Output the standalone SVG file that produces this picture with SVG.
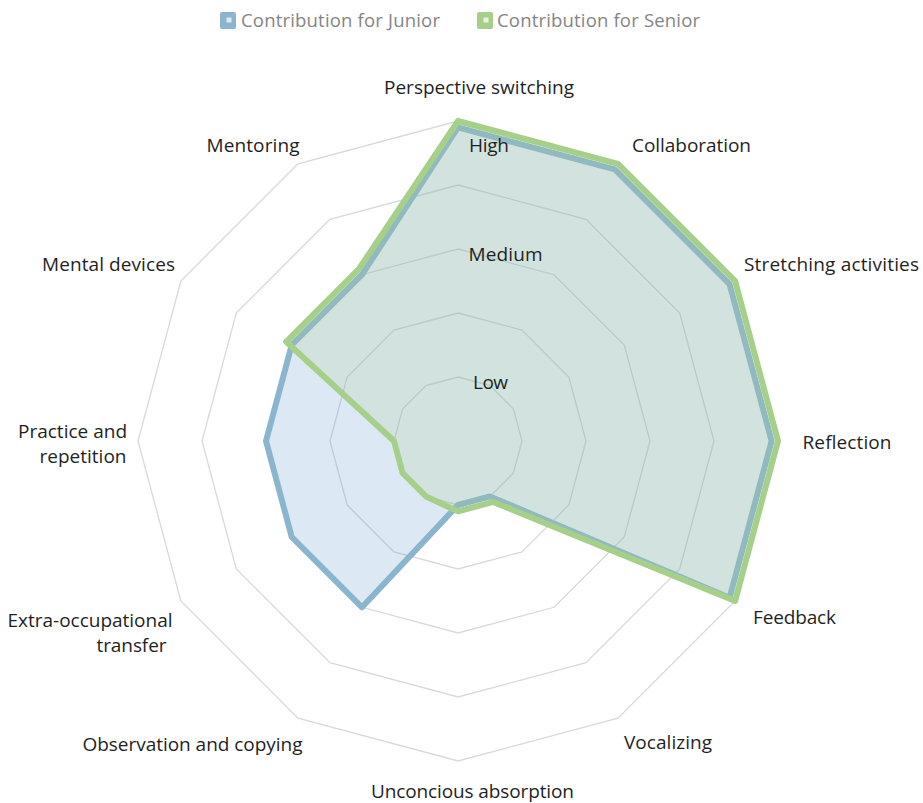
<svg xmlns="http://www.w3.org/2000/svg" width="923" height="803" viewBox="0 0 923 803">
<style>
.ring{fill:none;stroke:#D9D9D9;stroke-width:1.3}
.lbl{font-family:"Open Sans","Liberation Sans",sans-serif;font-size:19px;fill:#1F1F1F}
.leg{font-family:"Open Sans","Liberation Sans",sans-serif;font-size:18.5px;fill:#858585}
.jfill{fill:#6096CD;fill-opacity:0.22;stroke:none}
.sfill{fill:#A9D18E;fill-opacity:0.2;stroke:none}
.jline{fill:none;stroke:#8BB5CD;stroke-width:6;stroke-linejoin:round}
.sline{fill:none;stroke:#A6D08A;stroke-width:6;stroke-linejoin:round}
</style>
<rect width="923" height="803" fill="#FFFFFF"/>
<g id="grid">
<polygon class="ring" points="458,377 490,385.57 513.43,409 522,441 513.43,473 490,496.43 458,505 426,496.43 402.57,473 394,441 402.57,409 426,385.57"/>
<polygon class="ring" points="458,313 522,330.15 568.85,377 586,441 568.85,505 522,551.85 458,569 394,551.85 347.15,505 330,441 347.15,377 394,330.15"/>
<polygon class="ring" points="458,249 554,274.72 624.28,345 650,441 624.28,537 554,607.28 458,633 362,607.28 291.72,537 266,441 291.72,345 362,274.72"/>
<polygon class="ring" points="458,185 586,219.3 679.7,313 714,441 679.7,569 586,662.7 458,697 330,662.7 236.3,569 202,441 236.3,313 330,219.3"/>
<polygon class="ring" points="458,121 618,163.87 735.13,281 778,441 735.13,601 618,718.13 458,761 298,718.13 180.87,601 138,441 180.87,281 298,163.87"/>
</g>
<g id="series-junior">
<polygon class="jfill" points="458,127.4 614.8,169.42 729.58,284.2 771.6,441 729.58,597.8 490,496.43 458,505 362,607.28 291.72,537 266,441 291.72,345 362,274.72"/>
<polygon class="jline" points="458,127.4 614.8,169.42 729.58,284.2 771.6,441 729.58,597.8 490,496.43 458,505 362,607.28 291.72,537 266,441 291.72,345 362,274.72"/>
</g>
<g id="series-senior">
<polygon class="sfill" points="458,121 618,163.87 735.13,281 778,441 735.13,601 493.2,501.97 458,511.4 426,496.43 402.57,473 394,441 286.18,341.8 358.8,269.18"/>
<polygon class="sline" points="458,121 618,163.87 735.13,281 778,441 735.13,601 493.2,501.97 458,511.4 426,496.43 402.57,473 394,441 286.18,341.8 358.8,269.18"/>
</g>
<g id="scale-labels">
<text class="lbl" x="469" y="151.7" textLength="40">High</text>
<text class="lbl" x="468.5" y="260.7" textLength="74">Medium</text>
<text class="lbl" x="473" y="389.3" textLength="35">Low</text>
</g>
<g id="axis-labels">
<g id="lbl-perspective"><text class="lbl" x="384" y="93.5" textLength="190">Perspective switching</text></g>
<g id="lbl-collaboration"><text class="lbl" x="632" y="151.7" textLength="119">Collaboration</text></g>
<g id="lbl-stretching"><text class="lbl" x="744" y="270.7" textLength="175">Stretching activities</text></g>
<g id="lbl-reflection"><text class="lbl" x="802.5" y="449" textLength="89">Reflection</text></g>
<g id="lbl-feedback"><text class="lbl" x="753" y="623.7" textLength="83">Feedback</text></g>
<g id="lbl-vocalizing"><text class="lbl" x="624" y="749.3" textLength="88">Vocalizing</text></g>
<g id="lbl-unconcious"><text class="lbl" x="371" y="797.5" textLength="203">Unconcious absorption</text></g>
<g id="lbl-observation"><text class="lbl" x="82.5" y="750.7" textLength="220">Observation and copying</text></g>
<g id="lbl-extra"><text class="lbl" x="7.5" y="626.7" textLength="165">Extra-occupational</text><text class="lbl" x="96.5" y="651.7" textLength="70">transfer</text></g>
<g id="lbl-practice"><text class="lbl" x="18" y="437.7" textLength="109">Practice and</text><text class="lbl" x="39.5" y="463.3" textLength="87">repetition</text></g>
<g id="lbl-mental"><text class="lbl" x="42" y="270.7" textLength="133">Mental devices</text></g>
<g id="lbl-mentoring"><text class="lbl" x="206.5" y="151.7" textLength="93">Mentoring</text></g>
</g>
<g id="legend">
<g id="legend-junior">
<rect x="220" y="12" width="16" height="17" rx="2" fill="#8BB5CD"/>
<rect x="226.5" y="17.5" width="5" height="5" fill="#DDE8F4"/>
<text class="leg" x="241" y="26.7" textLength="199">Contribution for Junior</text>
</g>
<g id="legend-senior">
<rect x="477" y="12" width="16" height="17" rx="2" fill="#A6D08A"/>
<rect x="483.5" y="17.5" width="5" height="5" fill="#E6F1DE"/>
<text class="leg" x="497" y="26.7" textLength="203">Contribution for Senior</text>
</g>
</g>
</svg>
